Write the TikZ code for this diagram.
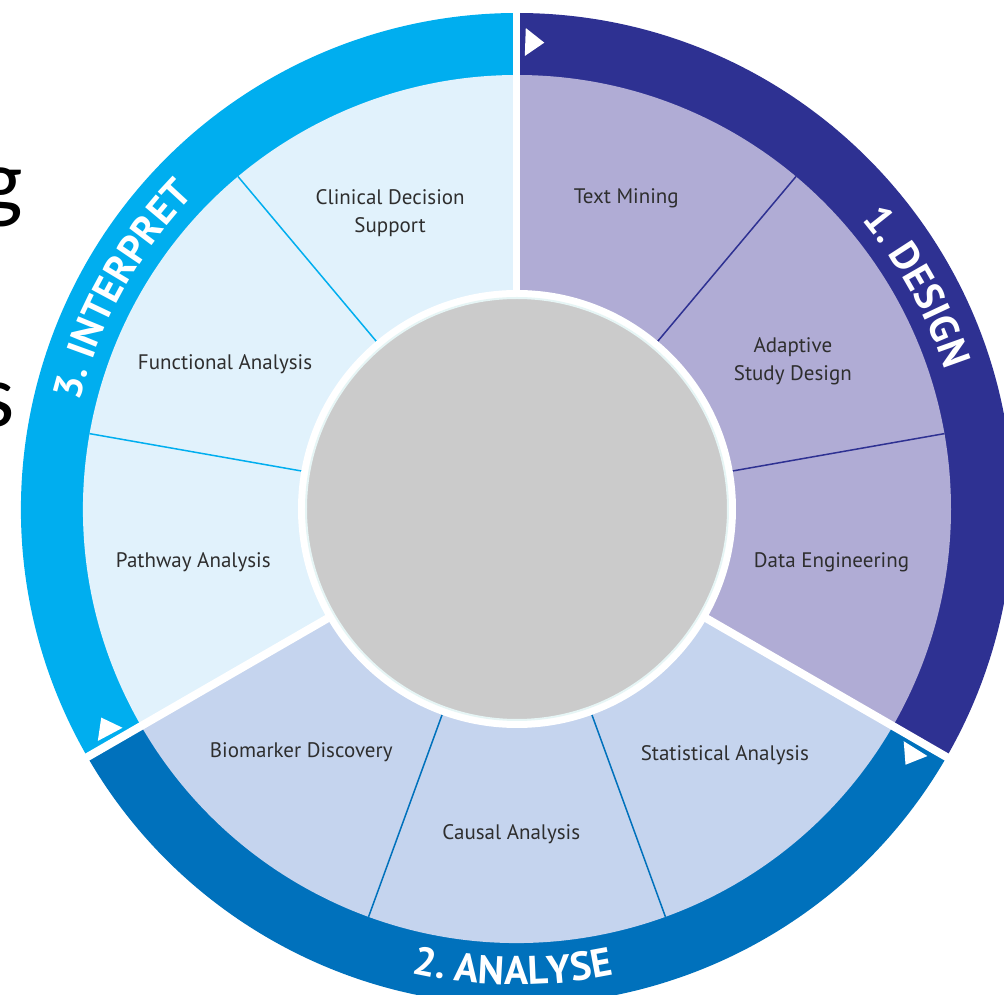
\documentclass[tikz,border=0pt]{standalone}
\usepackage{fontspec}
\setmainfont{PT Sans}
\newfontfamily\slidefont{Carlito}
\usepackage{tikz}
\usetikzlibrary{decorations.text}

\definecolor{designring}{HTML}{2E3192}
\definecolor{designfill}{HTML}{B0ACD5}
\definecolor{analysering}{HTML}{0071BC}
\definecolor{analysefill}{HTML}{C5D4EE}
\definecolor{interpretring}{HTML}{00AEEF}
\definecolor{interpretfill}{HTML}{E1F2FC}
\definecolor{hubgray}{HTML}{CBCBCB}
\definecolor{hubrim}{HTML}{E6F5F5}
\definecolor{labelgray}{HTML}{2E2E2E}

\newcommand\ringfont{\fontsize{40}{40}\selectfont\bfseries}

\begin{document}
\begin{tikzpicture}[x=1pt, y=1pt,
    item/.style={align=center, text=labelgray, inner sep=0pt, font=\fontsize{21}{28}\selectfont},
    ringlabel/.style={decorate, decoration={text along path, text align=center, text color=white, text={#1}}},
    cutletter/.style={inner sep=0pt, text=black, font=\slidefont\fontsize{90}{90}\selectfont}]
  \useasboundingbox (-517,-486) rectangle (487,509);

  \fill[designring] (0,0) -- (90:496) arc[start angle=90, end angle=-30, radius=496] -- cycle;
  \fill[designfill] (0,0) -- (90:434) arc[start angle=90, end angle=-30, radius=434] -- cycle;
  \fill[analysering] (0,0) -- (-30:496) arc[start angle=-30, end angle=-150, radius=496] -- cycle;
  \fill[analysefill] (0,0) -- (-30:434) arc[start angle=-30, end angle=-150, radius=434] -- cycle;
  \fill[interpretring] (0,0) -- (210:496) arc[start angle=210, end angle=90, radius=496] -- cycle;
  \fill[interpretfill] (0,0) -- (210:434) arc[start angle=210, end angle=90, radius=434] -- cycle;

  \draw[designring, line width=1.5] (50:215) -- (50:434);
  \draw[designring, line width=1.5] (10:215) -- (10:434);
  \draw[analysering, line width=1.5] (-70:215) -- (-70:434);
  \draw[analysering, line width=1.5] (-110:215) -- (-110:434);
  \draw[interpretring, line width=1.5] (130:215) -- (130:434);
  \draw[interpretring, line width=1.5] (170:215) -- (170:434);

  \draw[white, line width=7] (0,0) -- (90:500);
  \draw[white, line width=8] (0,0) -- (-30:500);
  \draw[white, line width=8] (0,0) -- (210:500);

  \fill[white] (0,0) circle (219);
  \filldraw[fill=hubgray, draw=hubrim, line width=2] (0,0) circle (211);

  \fill[white, shift={(88:467)}, rotate=-2] (-8,-14) -- (11,0) -- (-8,14) -- cycle;
  \fill[white, shift={(-32:465)}, rotate=-122] (-8,-14) -- (11,0) -- (-8,14) -- cycle;
  \fill[white, shift={(208:465)}, rotate=118] (-8,-14) -- (11,0) -- (-8,14) -- cycle;

  \path[ringlabel={|\ringfont|1. DESIGN}] (60:450) arc[start angle=60, end angle=-2, radius=450];
  \path[ringlabel={|\ringfont|2. ANALYSE}] (-121:476) arc[start angle=-121, end angle=-60, radius=476];
  \path[ringlabel={|\ringfont|3. INTERPRET}] (182:450) arc[start angle=182, end angle=120, radius=450];

  \node[item] (textmining) at (70.6:329) {Text Mining};
  \node[item] (adaptive) at (28.2:313) {Adaptive\\Study Design};
  \node[item] (dataeng) at (-9.6:319) {Data Engineering};
  \node[item] (statistical) at (-49.8:322) {Statistical Analysis};
  \node[item] (causal) at (-91:325) {Causal Analysis};
  \node[item] (biomarker) at (228.4:325) {Biomarker Discovery};
  \node[item] (pathway) at (189.3:328) {Pathway Analysis};
  \node[item] (functional) at (153.6:326) {Functional Analysis};
  \node[item] (clinical) at (113.2:322) {Clinical Decision\\Support};

  \node[cutletter, anchor=base east] (cutg) at (-494,297) {g};
  \node[cutletter, anchor=base east] (cuts) at (-502,82) {s};
\end{tikzpicture}
\end{document}
